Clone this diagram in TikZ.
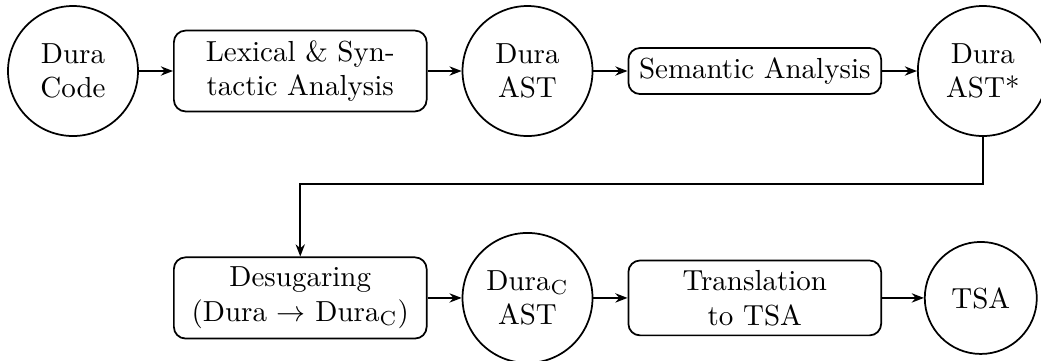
\documentclass[tikz,border=0pt]{standalone}
\usepackage{amsmath}
\usepackage{tikz}
\usetikzlibrary{arrows.meta}

\begin{document}
\begin{tikzpicture}[>={Stealth[length=4.2pt,width=3.2pt]},semithick,
  circ/.style={circle,draw,align=center,inner sep=1pt,minimum size=#1},
  circ/.default=1.576cm,
  blk/.style={rectangle,draw,rounded corners,align=center,text width=2.83cm}]
\useasboundingbox (0,0) rectangle (12.62,-4.376);
% first row
\node[circ](code) at (0.885,-0.861) {Dura\\Code};
\node[blk](lex) at (3.64,-0.861) {Lexical \& Syn-\\tactic Analysis};
\node[circ](ast) at (6.395,-0.861) {Dura\\AST};
\node[blk](sem) at (9.15,-0.861) {Semantic Analysis};
\node[circ](astS) at (11.915,-0.861) {Dura\\AST*};
% second row
\node[blk](des) at (3.64,-3.612) {Desugaring\\(Dura $\to$ Dura$_{\mathrm{C}}$)};
\node[circ](astC) at (6.395,-3.612) {Dura$_{\mathrm{C}}$\\AST};
\node[blk](tra) at (9.15,-3.612) {Translation\\to TSA};
\node[circ=1.358cm](tsa) at (11.89,-3.612) {TSA};
\coordinate (bend) at (11.915,-2.23);
\foreach \a/\b in {code/lex,lex/ast,ast/sem,sem/astS,des/astC,astC/tra,tra/tsa} {
   \draw[->] (\a) -- (\b);
}
\draw[->] (astS) -- (bend) -| (des);
\end{tikzpicture}
\end{document}
